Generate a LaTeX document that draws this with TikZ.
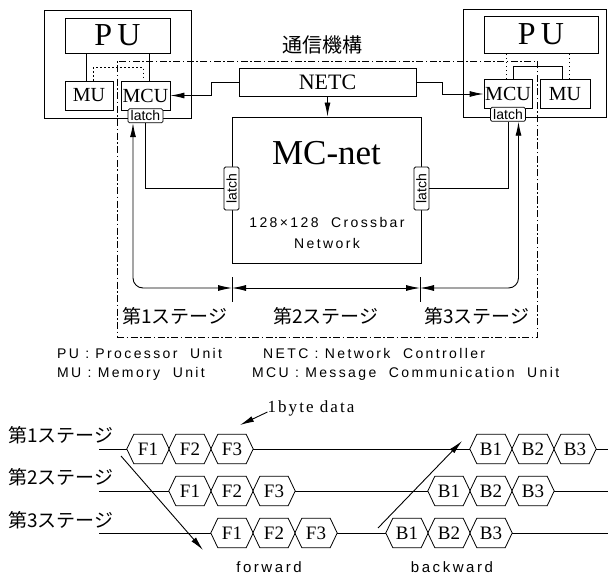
\documentclass[tikz,border=0pt]{standalone}
\usepackage{fontspec}
\setmainfont{Liberation Serif}
\newfontfamily\jpfont{Noto Sans CJK JP}
\newfontfamily\widesans[LetterSpace=17]{Liberation Sans}
\newfontfamily\wideserif[LetterSpace=12]{Liberation Serif}
\newfontfamily\plainsans{Liberation Sans}
\usepackage{graphicx}
\usepackage{tikz}
\usetikzlibrary{positioning,arrows.meta}
\tikzset{
    frame/.style={
        draw,
        line width=0.9pt,
        inner sep=0pt
    },
    unitbig/.style={
        frame,
        minimum width=105pt,
        minimum height=35pt,
        font=\fontsize{32}{32}\selectfont
    },
    unitsmall/.style={
        frame,
        minimum width=48pt,
        minimum height=29pt,
        font=\fontsize{20}{20}\selectfont
    },
    latchbox/.style={
        draw,
        line width=0.8pt,
        fill=white,
        rounded corners=1.5pt,
        inner sep=0pt,
        minimum width=35pt,
        minimum height=14pt,
        font=\plainsans\fontsize{14}{14}\selectfont
    },
    vlatchbox/.style={
        latchbox,
        minimum width=15pt,
        minimum height=43pt
    },
    commline/.style={
        draw,
        line width=0.8pt,
        dash pattern=on 7pt off 2.5pt on 1.5pt off 2.5pt
    },
    bus/.style={
        draw,
        line width=0.8pt
    },
    busdot/.style={
        draw,
        line width=1pt,
        dash pattern=on 1.5pt off 2.5pt
    },
    flowline/.style={
        draw,
        line width=0.9pt,
        -{Latex[length=14pt,width=6pt]}
    },
    stagearrow/.style={
        draw,
        line width=0.9pt,
        {Latex[length=14pt,width=6pt]}-{Latex[length=14pt,width=6pt]}
    },
    cell/.style={
        minimum width=42pt,
        minimum height=29pt,
        inner sep=0pt,
        font=\fontsize{19}{19}\selectfont,
        append after command={
            \pgfextra{
                \draw[line width=0.8pt] (\tikzlastnode.west)
                    -- ([xshift=7pt]\tikzlastnode.north west)
                    -- ([xshift=-7pt]\tikzlastnode.north east)
                    -- (\tikzlastnode.east)
                    -- ([xshift=-7pt]\tikzlastnode.south east)
                    -- ([xshift=7pt]\tikzlastnode.south west) -- cycle;
            }
        }
    },
    stagelabel/.style={
        inner sep=0pt,
        font=\jpfont\fontsize{19}{19}\selectfont
    },
    legend/.style={
        inner sep=0pt,
        anchor=west,
        font=\widesans\fontsize{14}{14}\selectfont
    },
    dirlabel/.style={
        inner sep=0pt,
        font=\widesans\fontsize{15}{15}\selectfont
    }
}
\begin{document}
\begin{tikzpicture}[x=1pt, y=-1pt]
    \useasboundingbox (0,0) rectangle (608,575);

    \node[frame, minimum width=147pt, minimum height=108pt] (peL) at (117.5,64) {};
    \node[unitbig] (puL) at (117.5,35.5) {P\,U};
    \node[unitsmall] (muL) at (89,95.5) {MU};
    \node[unitsmall, minimum width=49pt] (mcuL) at (145.5,95.5) {MCU};
    \node[latchbox, anchor=north] (latchL) at ([yshift=2pt]mcuL.south) {latch};
    \path[bus] ([xshift=-3pt]muL.north) -- ([xshift=-3pt]muL.north |- puL.south);
    \path[bus] ([xshift=3.5pt]mcuL.north) -- ([xshift=3.5pt]mcuL.north |- puL.south);
    \path[busdot] ([xshift=4pt]muL.north) -- ++(0,-13) -| ([xshift=-2.5pt]mcuL.north);

    \node[frame, minimum width=143pt, minimum height=108pt] (peR) at (534.5,63) {};
    \node[unitbig, minimum width=114pt, minimum height=37pt] (puR) at (541,34.5) {P\,U};
    \node[unitsmall] (mcuR) at (508,94) {MCU};
    \node[unitsmall, minimum width=50pt] (muR) at (565,94) {MU};
    \node[latchbox, anchor=north] (latchR) at ([yshift=2pt]mcuR.south) {latch};
    \path[busdot] ([xshift=-2pt]mcuR.north) -- ([xshift=-2pt]mcuR.north |- puR.south);
    \path[busdot] ([xshift=4pt]muR.north) -- ([xshift=4pt]muR.north |- puR.south);
    \path[bus] ([xshift=5pt]mcuR.north) -- ++(0,-13) -| ([xshift=-3pt]muR.north);

    \node[commline, minimum width=420pt, minimum height=276pt, inner sep=0pt] (comm) at (327,199) {};
    \node[font=\jpfont\fontsize{20}{20}\selectfont] (commname) at (322,45) {通信機構};

    \node[frame, minimum width=177pt, minimum height=28pt, font=\fontsize{22}{22}\selectfont] (netc) at (327.5,82) {NETC};
    \node[frame, minimum width=189pt, minimum height=146pt] (mcnet) at (326.5,190) {};
    \node[font=\fontsize{35}{35}\selectfont] (mcname) at (326.5,153) {MC-net};
    \node[align=center, font=\widesans\fontsize{14}{21}\selectfont] (mcdesc) at (327,233) {128×128\ \ Crossbar\\Network};
    \node[vlatchbox] (mlatchL) at ([yshift=1.5pt]mcnet.west) {\rotatebox{90}{latch}};
    \node[vlatchbox] (mlatchR) at ([yshift=1.5pt]mcnet.east) {\rotatebox{90}{latch}};

    \path[flowline] (netc.west) -- ++(-27,0) |- (mcuL.east);
    \path[flowline] (netc.east) -- ++(26,0) |- (mcuR.west);
    \path[flowline] (netc.south) -- (netc.south |- mcnet.north);
    \path[bus] (mlatchL.west) -| (latchL.south);
    \path[bus] (mlatchR.east) -| (latchR.south);

    \coordinate (tickA) at (232,288);
    \coordinate (tickB) at (420,288);
    \path[bus] ([yshift=11pt]tickA) -- ([yshift=-14pt]tickA);
    \path[bus] ([yshift=11pt]tickB) -- ([yshift=-14pt]tickB);
    \path[stagearrow, rounded corners=10pt] ([xshift=-12.5pt]latchL.south) |- (tickA);
    \path[stagearrow] (tickA) -- (tickB);
    \path[stagearrow, rounded corners=10pt] (tickB) -| ([xshift=10.5pt]latchR.south);

    \node[stagelabel] (stageA) at (175,316) {第1ステージ};
    \node[stagelabel] (stageB) at (326,316) {第2ステージ};
    \node[stagelabel] (stageC) at (477,316) {第3ステージ};

    \node[legend] (keyPU) at (57,353) {PU : Processor\ \ Unit};
    \node[legend] (keyNETC) at (263,353) {NETC : Network\ \ Controller};
    \node[legend] (keyMU) at (57,374) {MU : Memory\ \ Unit};
    \node[legend] (keyMCU) at (252,374) {MCU : Message\ \ Communication\ \ Unit};

    \node[stagelabel, anchor=west] (row1) at (8,435) {第1ステージ};
    \node[stagelabel, anchor=west] (row2) at (8,477) {第2ステージ};
    \node[stagelabel, anchor=west] (row3) at (8,520) {第3ステージ};
    \coordinate (start1) at (99,449);
    \coordinate (start2) at (99,491);
    \coordinate (start3) at (99,533);
    \coordinate (end1) at (608,449);
    \coordinate (end2) at (608,491);
    \coordinate (end3) at (608,533);

    \node[cell] (f11) at (148,449) {F1};
    \node[cell] (f12) at (190,449) {F2};
    \node[cell] (f13) at (232,449) {F3};
    \node[cell] (b11) at (491,449) {B1};
    \node[cell] (b12) at (533,449) {B2};
    \node[cell] (b13) at (575,449) {B3};

    \node[cell] (f21) at (190,491) {F1};
    \node[cell] (f22) at (232,491) {F2};
    \node[cell] (f23) at (274,491) {F3};
    \node[cell] (b21) at (449,491) {B1};
    \node[cell] (b22) at (491,491) {B2};
    \node[cell] (b23) at (533,491) {B3};

    \node[cell] (f31) at (232,533) {F1};
    \node[cell] (f32) at (274,533) {F2};
    \node[cell] (f33) at (316,533) {F3};
    \node[cell] (b31) at (407,533) {B1};
    \node[cell] (b32) at (449,533) {B2};
    \node[cell] (b33) at (491,533) {B3};

    \path[bus] (start1) -- (f11.west);
    \path[bus] (f13.east) -- (b11.west);
    \path[bus] (b13.east) -- (end1);
    \path[bus] (start2) -- (f21.west);
    \path[bus] (f23.east) -- (b21.west);
    \path[bus] (b23.east) -- (end2);
    \path[bus] (start3) -- (f31.west);
    \path[bus] (f33.east) -- (b31.west);
    \path[bus] (b33.east) -- (end3);

    \node[inner sep=0pt, font=\wideserif\fontsize{17}{17}\selectfont] (bytenote) at (311,408) {1byte data};
    \coordinate (bytetip) at (240,425);
    \path[flowline] ([yshift=-4pt]bytenote.west) -- (bytetip);

    \coordinate (fwdA) at (121,456);
    \coordinate (fwdB) at (203,550);
    \coordinate (bwdA) at (378,528);
    \coordinate (bwdB) at (462,441);
    \path[flowline] (fwdA) -- (fwdB);
    \path[flowline] (bwdA) -- (bwdB);
    \node[dirlabel] (fwdname) at (269,567) {forward};
    \node[dirlabel] (bwdname) at (452,567) {backward};
\end{tikzpicture}
\end{document}
